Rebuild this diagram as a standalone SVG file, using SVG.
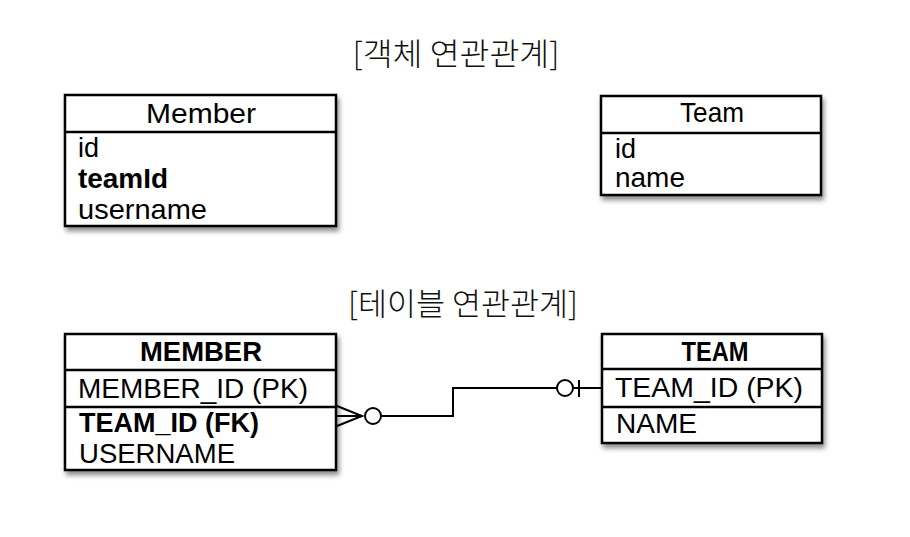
<svg xmlns="http://www.w3.org/2000/svg" width="910" height="537" viewBox="0 0 910 537">
<defs>
<filter id="sh" x="-10%" y="-10%" width="130%" height="140%">
<feDropShadow dx="2" dy="4" stdDeviation="2.5" flood-color="#000" flood-opacity="0.45"/>
</filter>
</defs>
<style>
.box{fill:#fff;stroke:#000;stroke-width:2.5}
.sep{stroke:#000;stroke-width:2.5}
.title{font-family:"Noto Sans CJK KR","Liberation Sans",sans-serif;font-size:31px;font-weight:300;fill:#111;text-anchor:middle}
.hd{font-family:"Liberation Sans","Noto Sans CJK KR",sans-serif;font-size:28px;fill:#000;text-anchor:middle}
.tx{font-family:"Liberation Sans","Noto Sans CJK KR",sans-serif;font-size:27.5px;fill:#000}
.bd{font-weight:700}
.ln{fill:none;stroke:#000;stroke-width:2}
</style>
<rect width="910" height="537" fill="#fff"/>
<text class="title" x="456" y="65" textLength="207" lengthAdjust="spacingAndGlyphs">[객체 연관관계]</text>
<text class="title" x="463" y="315" textLength="230" lengthAdjust="spacingAndGlyphs">[테이블 연관관계]</text>

<g id="member">
<rect class="box" x="65" y="95" width="271" height="131" filter="url(#sh)"/>
<line class="sep" x1="65" y1="132" x2="336" y2="132"/>
<text class="hd" x="201" y="123" textLength="110" lengthAdjust="spacingAndGlyphs">Member</text>
<text class="tx" x="78" y="157" textLength="21" lengthAdjust="spacingAndGlyphs">id</text>
<text class="tx bd" x="78" y="188" textLength="90" lengthAdjust="spacingAndGlyphs">teamId</text>
<text class="tx" x="78" y="219" textLength="129" lengthAdjust="spacingAndGlyphs">username</text>
</g>

<g id="team">
<rect class="box" x="601" y="96" width="220" height="99" filter="url(#sh)"/>
<line class="sep" x1="601" y1="133" x2="821" y2="133"/>
<text class="hd" x="712" y="122" textLength="64" lengthAdjust="spacingAndGlyphs">Team</text>
<text class="tx" x="615" y="158" textLength="21" lengthAdjust="spacingAndGlyphs">id</text>
<text class="tx" x="615" y="187" textLength="70" lengthAdjust="spacingAndGlyphs">name</text>
</g>

<g id="MEMBER">
<rect class="box" x="65" y="334" width="271" height="136" filter="url(#sh)"/>
<line class="sep" x1="65" y1="370" x2="336" y2="370"/>
<line class="sep" x1="65" y1="407" x2="336" y2="407"/>
<text class="hd bd" x="201" y="361" textLength="122" lengthAdjust="spacingAndGlyphs">MEMBER</text>
<text class="tx" x="78" y="398" textLength="230" lengthAdjust="spacingAndGlyphs">MEMBER_ID (PK)</text>
<text class="tx bd" x="79" y="432" textLength="180" lengthAdjust="spacingAndGlyphs">TEAM_ID (FK)</text>
<text class="tx" x="79" y="463" textLength="156" lengthAdjust="spacingAndGlyphs">USERNAME</text>
</g>

<g id="TEAM">
<rect class="box" x="602" y="334" width="220" height="109" filter="url(#sh)"/>
<line class="sep" x1="602" y1="369" x2="822" y2="369"/>
<line class="sep" x1="602" y1="407" x2="822" y2="407"/>
<text class="hd bd" x="715" y="361" textLength="67" lengthAdjust="spacingAndGlyphs">TEAM</text>
<text class="tx" x="615" y="397" textLength="188" lengthAdjust="spacingAndGlyphs">TEAM_ID (PK)</text>
<text class="tx" x="616" y="433" textLength="81" lengthAdjust="spacingAndGlyphs">NAME</text>
</g>

<g id="connectors">
<polyline class="ln" points="337,406 362,416 337,426"/>
<line class="ln" x1="337" y1="416" x2="362" y2="416"/>
<circle class="ln" cx="373" cy="416" r="8"/>
<polyline class="ln" points="381,416 453,416 453,388 557,388"/>
<circle class="ln" cx="565" cy="388" r="8"/>
<line class="ln" x1="573" y1="388" x2="602" y2="388"/>
<line class="ln" x1="579" y1="380" x2="579" y2="397"/>
</g>
</svg>
